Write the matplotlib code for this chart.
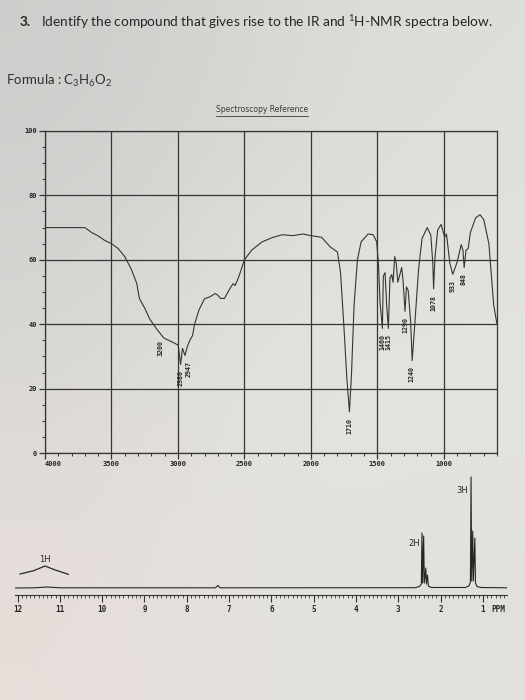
import matplotlib
matplotlib.use('Agg')
import matplotlib.pyplot as plt
from matplotlib.ticker import MultipleLocator, FixedLocator, FuncFormatter
from matplotlib.lines import Line2D
import numpy as np

# --- IR spectrum: wavenumber in cm-1, transmittance in % ---
ir_wavenumber = [4000, 3900, 3800, 3700, 3650, 3600, 3550, 3500, 3450, 3400,
                 3350, 3310, 3290, 3250, 3212, 3160, 3106, 3030, 2998, 2980,
                 2966, 2947, 2930, 2910, 2890, 2875, 2840, 2800, 2760, 2720,
                 2700, 2680, 2650, 2610, 2585, 2570, 2545, 2500, 2445, 2370,
                 2290, 2215, 2140, 2060, 2000, 1920, 1854, 1800, 1777, 1754,
                 1730, 1710, 1695, 1675, 1650, 1622, 1570, 1532, 1505, 1492,
                 1480, 1462, 1455, 1442, 1430, 1417, 1405, 1392, 1382, 1369,
                 1358, 1346, 1333, 1317, 1307, 1292, 1281, 1268, 1250, 1238,
                 1215, 1190, 1164, 1125, 1098, 1083, 1077, 1067, 1046, 1020,
                 994, 980, 955, 933, 902, 869, 856, 847, 833, 817,
                 800, 761, 728, 700, 661, 625, 600]
ir_transmittance = [70, 70, 70, 70, 68.5, 67.4, 66, 65, 63.5, 61,
                    57, 52.7, 48, 45, 41.6, 38.5, 35.7, 34.2, 33.5, 27.5,
                    32.5, 30.3, 33, 35, 36.5, 40, 44.6, 47.9, 48.5, 49.5,
                    49, 48, 48, 51, 52.6, 52, 54.4, 60, 63, 65.5,
                    66.9, 67.8, 67.5, 68, 67.5, 67, 64, 62.4, 56, 41,
                    23.5, 12.8, 24, 46, 60, 65.6, 68, 67.8, 65.6, 59,
                    47, 38.7, 55, 56, 46, 38.7, 54.4, 55.4, 53, 61,
                    59, 53, 55, 57.6, 53.8, 44, 51.6, 50.5, 41, 28.7,
                    42, 57, 66.6, 70, 67.7, 59, 51, 60.5, 69.3, 71,
                    67, 68, 59, 55.5, 59, 64.7, 63, 57.6, 63, 63.5,
                    68.5, 73, 74, 72.5, 65, 46, 40]

ir_peak_labels = ['3200', '2980', '2947', '1710', '1460', '1415',
                  '1290', '1240', '1078', '933', '848']
ir_ticks = [4000, 3500, 3000, 2500, 2000, 1500, 1000]

# --- 1H-NMR trace: chemical shift (ppm) vs signal height ---
nmr_ppm = [12.06, 11.6, 11.3, 11.0, 7.32, 7.265, 7.21,
           2.60, 2.50, 2.455, 2.44, 2.425, 2.40, 2.385, 2.35, 2.335, 2.31, 2.29, 2.22,
           1.42, 1.33, 1.295, 1.28, 1.265, 1.24, 1.225, 1.19, 1.175, 1.14, 1.05, 0.43]
nmr_height = [0, 0.2, 1, 0.2, 0.2, 2.5, 0.2,
              0.3, 1.5, 4, 55, 5, 52, 5, 20, 4, 13, 2, 0.5,
              0.5, 2, 6, 111, 7, 57, 7, 50, 5, 1.5, 0.5, 0.2]
# offset (expanded) trace of the broad acid proton
hump_ppm = [11.94, 11.62, 11.35, 11.11, 10.80]
hump_height = [14, 17.3, 22, 18, 13.7]

integrals = ['1H', '2H', '3H']
integral_ppm = [11.35, 2.62, 1.49]
integral_height = [29, 45, 97]

INK = '#353535'
MONO = 'DejaVu Sans Mono'

fig = plt.figure(figsize=(5.25, 7), dpi=100)

# paper background (photo of a printed sheet)
paper = np.array([[(205, 205, 203), (215, 215, 212), (222, 222, 218)],
                  [(216, 216, 213), (228, 228, 225), (228, 228, 224)],
                  [(232, 222, 218), (228, 226, 222), (225, 224, 220)]]) / 255
bg = fig.add_axes([0, 0, 1, 1], zorder=-5)
bg.imshow(paper, extent=[0, 1, 0, 1], aspect='auto', interpolation='bicubic')
bg.axis('off')

# --- header ---
plt.rcParams['mathtext.default'] = 'regular'
fig.text(20 / 525, 1 - 22 / 700, '3.', fontsize=9.8, fontweight='bold',
         family='Lato', color='#262626', va='center')
fig.text(41 / 525, 1 - 22 / 700,
         'Identify the compound that gives rise to the IR and $^1$H-NMR spectra below.',
         fontsize=9.8, family='Lato', color='#262626', va='center')
fig.text(6 / 525, 1 - 81 / 700, 'Formula : C$_3$H$_6$O$_2$', fontsize=9.5,
         family='Lato', color='#303030', va='center')

ref = fig.text(262 / 525, 1 - 110 / 700, 'Spectroscopy Reference', ha='center',
               va='center', fontsize=5.5, color='#3c3c3c')
fig.canvas.draw()
bb = ref.get_window_extent().transformed(fig.transFigure.inverted())
fig.add_artist(Line2D([bb.x0, bb.x1], [bb.y0 - 0.0015] * 2, color='#3c3c3c', lw=0.6))

# --- IR chart ---
ax = fig.add_axes([45 / 525, 1 - 453 / 700, 452 / 525, 322 / 700])
ax.set_facecolor('none')
ax.plot(ir_wavenumber, ir_transmittance, color=INK, lw=0.8)
ax.set_xlim(4000, 600)
ax.set_ylim(0, 100)
ax.xaxis.set_major_locator(FixedLocator(ir_ticks))
ax.xaxis.set_minor_locator(MultipleLocator(100))
ax.yaxis.set_major_locator(MultipleLocator(20))
ax.yaxis.set_minor_locator(MultipleLocator(5))
ax.grid(which='major', color=INK, lw=0.9)
for sp in ax.spines.values():
    sp.set_color(INK)
    sp.set_linewidth(0.9)
ax.tick_params(which='major', length=4, width=0.9, color=INK, labelsize=5,
               pad=2, labelcolor='#222222')
ax.tick_params(which='minor', length=2.5, width=0.7, color=INK)
for lbl in ax.get_xticklabels() + ax.get_yticklabels():
    lbl.set_family(MONO)
    lbl.set_fontweight('bold')
ax.get_xticklabels()[0].set_ha('left')

# peak labels sit just under each dip (a couple are shifted right on the sheet)
shift = {'3200': -70, '2947': -30}   # cm-1
wn_up = ir_wavenumber[::-1]
t_up = ir_transmittance[::-1]
for lab in ir_peak_labels:
    wn = float(lab)
    xl = wn + shift.get(lab, 0)
    win = [t for w, t in zip(ir_wavenumber, ir_transmittance) if abs(w - wn) <= 12]
    tmin = min(win + [np.interp(xl, wn_up, t_up), np.interp(wn, wn_up, t_up)])
    ax.annotate(lab, xy=(xl, tmin - 0.5), xytext=(0, -3), textcoords='offset points',
                rotation=90, ha='center', va='top', fontsize=4.8, family=MONO,
                fontweight='bold', color='#262626')

# --- NMR chart ---
nx = fig.add_axes([15 / 525, 1 - 595 / 700, 492 / 525, 125 / 700])
nx.set_facecolor('none')
nx.plot(nmr_ppm, nmr_height, color='#262626', lw=0.8)
nx.plot(hump_ppm, hump_height, color='#262626', lw=0.9)
nx.set_xlim(12.06, 0.43)
nx.set_ylim(-7, 118)
for side in ['top', 'left', 'right']:
    nx.spines[side].set_visible(False)
nx.spines['bottom'].set_color(INK)
nx.spines['bottom'].set_linewidth(0.8)
nx.set_yticks([])
nx.xaxis.set_major_locator(MultipleLocator(1))
nx.xaxis.set_minor_locator(MultipleLocator(0.1))
nx.xaxis.set_major_formatter(FuncFormatter(lambda v, p: f'{v:.0f}'))
nx.tick_params(which='major', length=5, width=0.8, color=INK, labelsize=5.5,
               pad=2, labelcolor='#262626')
nx.tick_params(which='minor', length=2.5, width=0.6, color=INK)
for lbl in nx.get_xticklabels():
    lbl.set_family(MONO)
    lbl.set_fontweight('bold')
nx.text(0.80, -0.12, 'PPM', transform=nx.get_xaxis_transform(), fontsize=5.5,
        family=MONO, fontweight='bold', color='#262626', ha='left', va='center')

for lab, p, h in zip(integrals, integral_ppm, integral_height):
    nx.text(p, h, lab, fontsize=6, ha='center', va='center', color='#262626')

fig.savefig('out.png', dpi=100)
